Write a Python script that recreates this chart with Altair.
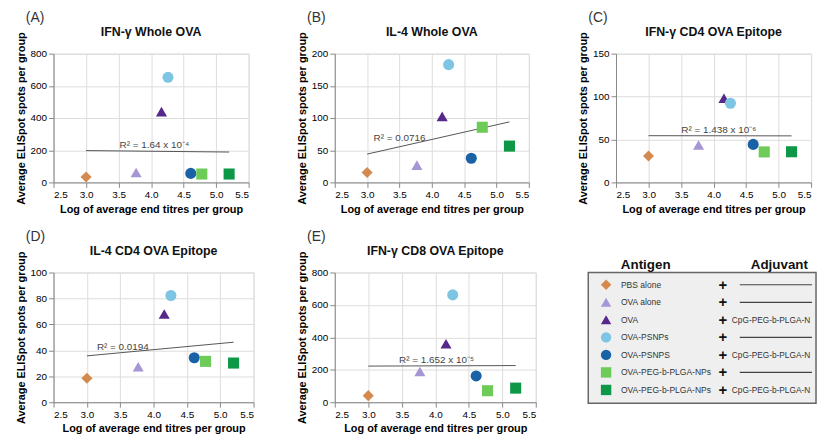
import altair as alt
import pandas as pd

FONT = "Liberation Sans"

# ---- groups ----
keys = ["g1", "g2", "g3", "g4", "g5", "g6", "g7"]
antigen_labels = ["PBS alone", "OVA alone", "OVA", "OVA-PSNPs", "OVA-PSNPS",
                  "OVA-PEG-b-PLGA-NPs", "OVA-PEG-b-PLGA-NPs"]
adjuvant_labels = ["", "", "CpG-PEG-b-PLGA-NPs", "", "CpG-PEG-b-PLGA-NPs", "",
                   "CpG-PEG-b-PLGA-NPs"]
shapes = ["diamond", "triangle-up", "triangle-up", "circle", "circle", "square", "square"]
colors = ["#D48A4E", "#A696D4", "#55288A", "#7DC5E2", "#1A62A6", "#6DCB58", "#0C9847"]

# ---- data ----
log_titre = [3.0, 3.77, 4.16, 4.26, 4.61, 4.78, 5.2]
ifng_whole = [33, 62, 440, 653, 56, 52, 52]
il4_whole = [15.4, 26.8, 102.6, 183, 37.5, 85.7, 56.4]
ifng_cd4 = [30.8, 43.6, 98, 92.2, 44.3, 35.5, 35.7]
il4_cd4 = [18.5, 27.4, 68, 82.3, 34.3, 31.5, 30.2]
ifng_cd8 = [40.6, 189, 361, 662, 162, 71, 87]

x_ticks = [2.5, 3.0, 3.5, 4.0, 4.5, 5.0, 5.5]

color_scale = alt.Scale(domain=keys, range=colors)
shape_scale = alt.Scale(domain=keys, range=shapes)


def panel(letter, title, values, ymax, ystep, w, h, r2text, r2x, r2y, r2align):
    df = pd.DataFrame({"key": keys, "x": log_titre, "y": values})
    xenc = alt.X("x:Q", scale=alt.Scale(domain=[2.5, 5.5], nice=False, zero=False),
                 axis=alt.Axis(values=x_ticks, format=".1f", labelOverlap=False,
                               title="Log of average end titres per group"))
    yenc = alt.Y("y:Q", scale=alt.Scale(domain=[0, ymax], nice=False),
                 axis=alt.Axis(values=list(range(0, ymax + 1, ystep)), labelOverlap=False,
                               title="Average ELISpot spots per group"))
    reg = alt.Chart(df).transform_regression("x", "y").mark_line(
        color="#555555", strokeWidth=1).encode(x=xenc, y=yenc)
    pts = alt.Chart(df).mark_point(filled=True, size=125, opacity=1).encode(
        x=xenc, y=yenc,
        color=alt.Color("key:N", scale=color_scale, legend=None),
        shape=alt.Shape("key:N", scale=shape_scale, legend=None))
    ann = alt.Chart(pd.DataFrame({"t": [r2text], "x": [r2x], "y": [r2y]})).mark_text(
        align=r2align, baseline="bottom", fontSize=10, font=FONT, color="#444444", dy=-1
    ).encode(x=xenc, y=yenc, text="t:N")
    lab = alt.Chart(pd.DataFrame({"t": [letter]})).mark_text(
        align="left", baseline="middle", fontSize=14, font=FONT, color="#333333"
    ).encode(x=alt.value(-28), y=alt.value(-36), text="t:N")
    ttl = alt.Chart(pd.DataFrame({"t": [title]})).mark_text(
        align="center", baseline="middle", fontSize=12.5, fontWeight="bold", font=FONT,
        color="#111111"
    ).encode(x=alt.value(w / 2), y=alt.value(-22), text="t:N")
    return alt.layer(reg, pts, ann, lab, ttl).properties(width=w, height=h)


pA = panel("(A)", "IFN-γ Whole OVA", ifng_whole, 800, 200, 197, 130,
           "R² = 1.64 x 10⁻⁴", 4.05, 197, "center")
pB = panel("(B)", "IL-4 Whole OVA", il4_whole, 200, 50, 196, 130,
           "R² = 0.0716", 3.1, 60, "left")
pC = panel("(C)", "IFN-γ CD4 OVA Epitope", ifng_cd4, 150, 50, 197, 130,
           "R² = 1.438  x 10⁻⁶", 4.08, 54, "center")
pD = panel("(D)", "IL-4 CD4 OVA Epitope", il4_cd4, 100, 20, 202, 131,
           "R² = 0.0194", 3.15, 38, "left")
pE = panel("(E)", "IFN-γ CD8 OVA Epitope", ifng_cd8, 800, 200, 203, 131,
           "R² = 1.652 x 10⁻⁵", 4.02, 222, "center")

# ---- legend table (drawn in the third column of the second row) ----
L0 = -28          # box left, relative to the column start
BW, LH = 230, 132
rows = list(range(len(keys)))
leg = pd.DataFrame({"key": keys, "row": rows, "antigen": antigen_labels,
                    "adjuvant": adjuvant_labels, "plus": ["+"] * len(keys)})
yrow = alt.Y("row:Q", scale=alt.Scale(domain=[-0.7, 6.7], reverse=True), axis=None)
box = alt.Chart(pd.DataFrame({"a": [0]})).mark_rect(
    fill="#EFEFEF", stroke="#666666", strokeWidth=1.5
).encode(x=alt.value(L0), x2=alt.value(L0 + BW), y=alt.value(0), y2=alt.value(LH))
sym = alt.Chart(leg).mark_point(filled=True, size=110, opacity=1).encode(
    x=alt.value(L0 + 18), y=yrow,
    color=alt.Color("key:N", scale=color_scale, legend=None),
    shape=alt.Shape("key:N", scale=shape_scale, legend=None))
ant = alt.Chart(leg).mark_text(align="left", baseline="middle", fontSize=8.6,
                               font=FONT, color="#333333").encode(
    x=alt.value(L0 + 33), y=yrow, text="antigen:N")
plus = alt.Chart(leg).mark_text(align="center", baseline="middle", fontSize=15,
                                fontWeight="bold", font=FONT, color="#111111").encode(
    x=alt.value(L0 + 136), y=yrow, text="plus:N")
adj = alt.Chart(leg).transform_filter("datum.adjuvant != ''").mark_text(
    align="left", baseline="middle", fontSize=8.4, font=FONT, color="#333333",
    limit=BW - 146, ellipsis=" "
).encode(x=alt.value(L0 + 145), y=yrow, text="adjuvant:N")
dash = alt.Chart(leg).transform_filter("datum.adjuvant == ''").mark_rule(
    color="#444444", strokeWidth=1.2).encode(
    x=alt.value(L0 + 153), x2=alt.value(L0 + BW - 4), y=yrow)
heads = alt.Chart(pd.DataFrame({"t": ["Antigen", "Adjuvant"],
                                "px": [L0 + 58, L0 + 193]})).mark_text(
    align="center", baseline="bottom", fontSize=13.5, fontWeight="bold", font=FONT,
    color="#111111").encode(x=alt.X("px:Q", scale=None, axis=None), y=alt.value(-1), text="t:N")
legend = alt.layer(box, sym, ant, plus, adj, dash, heads).properties(width=197, height=131)

chart = alt.concat(pA, pB, pC, pD, pE, legend, columns=3,
                   spacing={"row": 90, "column": 81}, bounds="flush", align="all").properties(
    padding={"left": 6, "top": 0, "right": 0, "bottom": 0}
).configure_view(stroke=None).configure_axis(
    grid=False, domainColor="#333333", tickColor="#333333", labelColor="#333333",
    labelFont=FONT, titleFont=FONT, labelFontSize=10, titleFontSize=10.5,
    titleFontWeight="bold", titleColor="#111111", tickSize=4, labelPadding=2
).configure_axisY(titlePadding=2).configure_axisX(titlePadding=3).configure(background="white")

chart.save("out.html", embed_options={"renderer": "svg", "actions": False})
